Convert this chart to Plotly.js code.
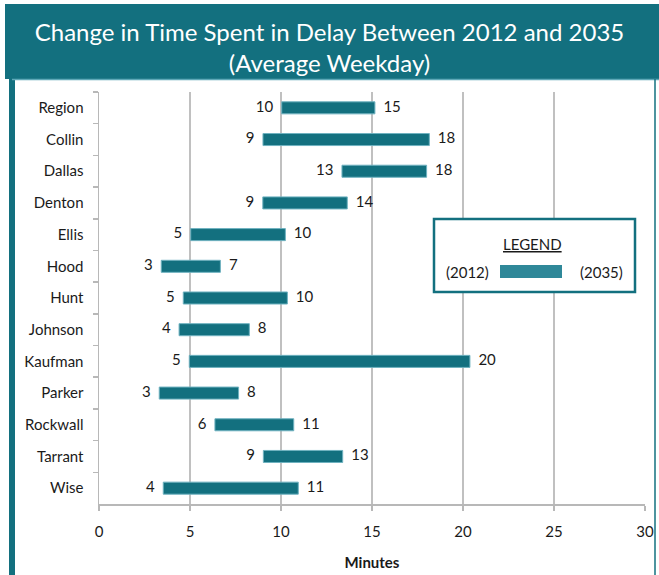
<!DOCTYPE html>
<html>
<head>
<meta charset="utf-8">
<script src="https://cdn.plot.ly/plotly-3.0.1.min.js"></script>
<style>html,body{margin:0;padding:0;background:#fff;}#chart{width:659px;height:575px;}</style>
</head>
<body>
<div id="chart"></div>
<script>
const categories = ['Region','Collin','Dallas','Denton','Ellis','Hood','Hunt','Johnson','Kaufman','Parker','Rockwall','Tarrant','Wise'];
const delay2012 = [10.04, 9.01, 13.35, 9.0, 5.04, 3.42, 4.63, 4.40, 4.96, 3.31, 6.37, 9.03, 3.53];
const delay2035 = [15.16, 18.15, 18.0, 13.64, 10.24, 6.67, 10.35, 8.26, 20.38, 7.67, 10.70, 13.39, 10.95];
const labels2012 = ['10','9','13','9','5','3','5','4','5','3','6','9','4'];
const labels2035 = ['15','18','18','14','10','7','10','8','20','8','11','13','11'];
const xTicks = [0, 5, 10, 15, 20, 25, 30];

const TEAL = '#13707f';
const FONT = 'Lato, "Open Sans", sans-serif';

const W = 659, H = 575;
const m = {l: 99, r: 14, t: 92, b: 71};
const pw = W - m.l - m.r, ph = H - m.t - m.b;
const px = x => (x - m.l) / pw;
const py = y => (H - m.b - y) / ph;

const traces = [
  {
    type: 'bar', orientation: 'h',
    y: categories,
    base: delay2012,
    x: delay2035.map((v, i) => v - delay2012[i]),
    marker: {color: TEAL, line: {color: '#6fb2c0', width: 1}},
    width: 0.38,
    hoverinfo: 'skip', showlegend: false
  },
  {
    type: 'scatter', mode: 'markers+text',
    y: categories, x: delay2012, text: labels2012,
    textposition: 'middle left',
    marker: {size: 12, opacity: 0},
    textfont: {family: FONT, size: 15, color: '#1a1a1a'},
    hoverinfo: 'skip', showlegend: false, cliponaxis: false
  },
  {
    type: 'scatter', mode: 'markers+text',
    y: categories, x: delay2035, text: labels2035,
    textposition: 'middle right',
    marker: {size: 12, opacity: 0},
    textfont: {family: FONT, size: 15, color: '#1a1a1a'},
    hoverinfo: 'skip', showlegend: false, cliponaxis: false
  }
];

const layout = {
  width: W, height: H,
  margin: m,
  paper_bgcolor: '#ffffff', plot_bgcolor: '#ffffff',
  font: {family: FONT, color: '#1a1a1a'},
  title: {
    text: 'Change in Time Spent in Delay Between 2012 and 2035<br>(Average Weekday)',
    font: {family: FONT, size: 24, color: '#ffffff'},
    x: 0.5, xref: 'container', xanchor: 'center',
    y: 1 - 41 / H, yref: 'container', yanchor: 'middle'
  },
  xaxis: {
    range: [0, 30], tickvals: xTicks, ticktext: xTicks.map(String),
    showgrid: true, gridcolor: '#c0c0c0', gridwidth: 1.5,
    zeroline: false, showline: true, linecolor: '#b8b8b8', linewidth: 1.5,
    ticks: 'outside', ticklen: 5, tickcolor: '#b8b8b8', tickwidth: 1.5,
    tickfont: {family: FONT, size: 15, color: '#1a1a1a'},
    ticklabelstandoff: 8,
    title: {text: '<b>Minutes</b>', font: {family: FONT, size: 15, color: '#1a1a1a'}, standoff: 19},
    fixedrange: true
  },
  yaxis: {
    type: 'category', range: [12.5, -0.5],
    showgrid: false, zeroline: false,
    showline: true, linecolor: '#b8b8b8', linewidth: 1.5,
    ticks: 'outside', tickson: 'boundaries', ticklen: 5, tickcolor: '#b8b8b8', tickwidth: 1.5,
    tickfont: {family: FONT, size: 15, color: '#1a1a1a'},
    ticklabelstandoff: 11,
    fixedrange: true
  },
  shapes: [
    {type: 'rect', xref: 'paper', yref: 'paper', x0: px(5), x1: px(659), y0: py(79), y1: py(4),
     fillcolor: TEAL, line: {width: 0}, layer: 'below'},
    {type: 'line', xref: 'paper', yref: 'paper', x0: px(12), x1: px(659), y0: py(79.5), y1: py(79.5),
     line: {color: '#5fa9b8', width: 1.5}},
    {type: 'rect', xref: 'paper', yref: 'paper', x0: px(9), x1: px(15), y0: py(575), y1: py(79),
     fillcolor: TEAL, line: {width: 0}, layer: 'below'},
    {type: 'line', xref: 'paper', yref: 'paper', x0: px(655), x1: px(655), y0: py(575), y1: py(79),
     line: {color: TEAL, width: 1.5}},
    {type: 'rect', xref: 'paper', yref: 'paper', x0: px(434), x1: px(635), y0: py(292), y1: py(219),
     fillcolor: '#ffffff', line: {color: TEAL, width: 2.5}},
    {type: 'rect', xref: 'paper', yref: 'paper', x0: px(500), x1: px(562), y0: py(278), y1: py(265),
     fillcolor: '#2f8899', line: {width: 0}}
  ],
  annotations: [
    {text: '<u>LEGEND</u>', xref: 'paper', yref: 'paper', x: px(532), y: py(244),
     xanchor: 'center', yanchor: 'middle', showarrow: false,
     font: {family: FONT, size: 15, color: '#1a1a1a'}},
    {text: '(2012)', xref: 'paper', yref: 'paper', x: px(467), y: py(272),
     xanchor: 'center', yanchor: 'middle', showarrow: false,
     font: {family: FONT, size: 15, color: '#1a1a1a'}},
    {text: '(2035)', xref: 'paper', yref: 'paper', x: px(601), y: py(272),
     xanchor: 'center', yanchor: 'middle', showarrow: false,
     font: {family: FONT, size: 15, color: '#1a1a1a'}}
  ]
};

Plotly.newPlot('chart', traces, layout, {displayModeBar: false, staticPlot: true});
</script>
</body>
</html>
